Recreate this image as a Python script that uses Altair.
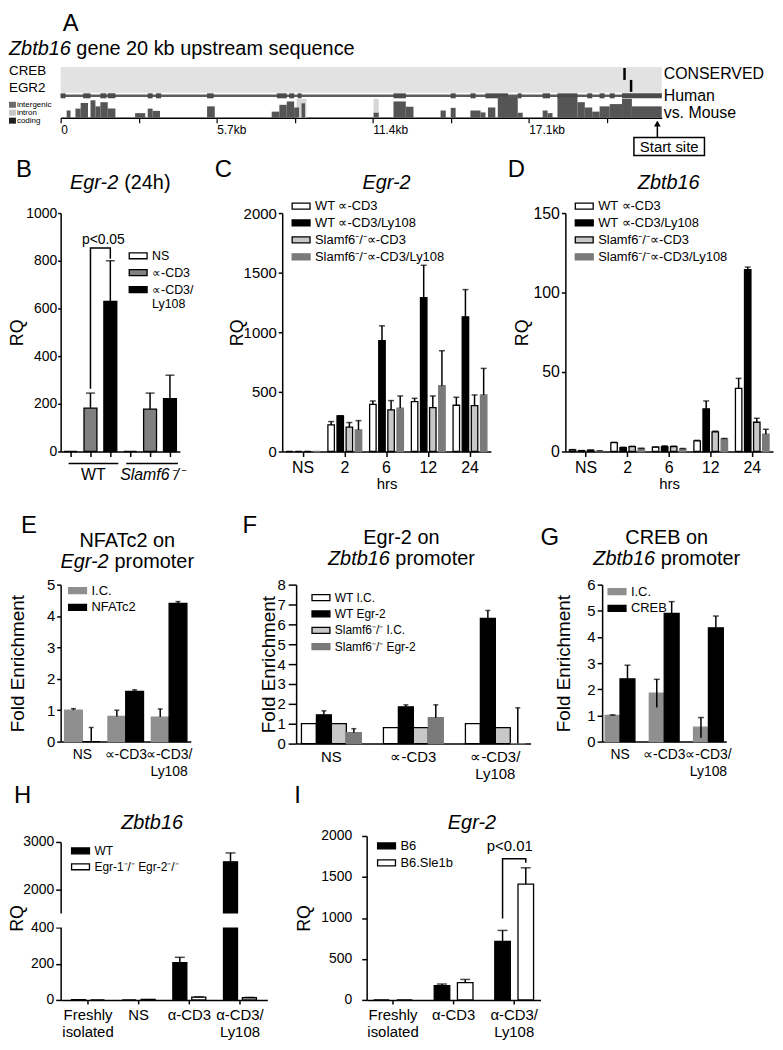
import altair as alt
import pandas as pd

FONT = "Liberation Sans"
AL = "\u221d"                      # alpha as printed in panels B-G
SL = "Slamf6\u207b/\u207b"
KO2 = "Egr-1\u207b/\u207b Egr-2\u207b/\u207b"

# ---------------- Panel A : conservation track ----------------
A_LEN_KB = 21.96
A_TICK_KB = [0, 2.85, 5.7, 8.55, 11.4, 14.25, 17.1, 19.95]
A_LABEL_KB = [0, 5.7, 11.4, 17.1]
A_LABEL_TXT = ["0", "5.7kb", "11.4kb", "17.1kb"]
A_SITE = ["CREB", "EGR2"]
A_SITE_KB = [20.6, 20.84]
A_START_KB = 21.8
A_HUMAN_START = [0.00, 0.82, 1.45, 1.72, 3.18, 3.48, 5.35, 7.90, 8.35, 8.66, 12.16,
                 14.25, 14.97, 15.52, 16.70, 17.61, 18.15, 19.24, 19.69, 20.06, 20.51]
A_HUMAN_END = [0.18, 1.09, 1.67, 2.00, 3.36, 3.67, 5.59, 8.26, 8.53, 8.80, 12.61,
               14.43, 15.16, 16.34, 16.84, 17.88, 18.88, 19.42, 19.87, 20.24, 21.96]
A_PEAK_START = [0.22, 0.54, 0.73, 1.09, 1.27, 1.45, 1.72, 2.72, 3.18, 3.36, 5.35, 7.71,
                7.99, 8.26, 8.53, 8.80, 11.43, 12.16, 12.61, 13.88, 14.25, 14.97, 15.34,
                15.61, 15.97, 16.70, 17.61, 17.79, 18.15, 18.88, 19.15, 19.42, 19.69,
                20.06, 20.51, 20.87]
A_PEAK_END = [0.36, 0.73, 1.00, 1.27, 1.45, 1.72, 2.00, 3.09, 3.36, 3.63, 5.63, 7.99,
              8.26, 8.53, 8.71, 8.93, 11.62, 12.61, 12.89, 14.07, 14.43, 15.34, 15.52,
              15.88, 16.70, 16.88, 17.79, 17.97, 18.88, 19.15, 19.42, 19.69, 20.06,
              20.51, 20.87, 21.96]
A_PEAK_PCT = [69, 74, 89, 96, 80, 91, 74, 62, 74, 68, 80, 66, 84, 93, 77, 88, 63, 93, 79,
              69, 76, 69, 64, 77, 106, 63, 69, 62, 104, 91, 77, 66, 80, 86, 100, 80]
A_INTRON_START = [8.62, 11.43]
A_INTRON_END = [8.98, 11.62]
A_KEY = ["intergenic", "intron", "coding"]
A_KEY_COL = ["#6a6a6a", "#c8c8c8", "#1e1e1e"]

# ---------------- Panel B ----------------
B_GENO = ["WT", "Slamf6"]
B_TREAT = ["NS", AL + "-CD3", AL + "-CD3/Ly108"]
B_WT = [0, 182, 630]
B_WT_ERR = [0, 245, 800]
B_KO = [0, 178, 222]
B_KO_ERR = [0, 245, 320]
B_BRACKET = [263, 853, 853, 808]

# ---------------- Panel C / D ----------------
HRS = ["NS", "2", "6", "12", "24"]
CD_SER = ["WT " + AL + "-CD3", "WT " + AL + "-CD3/Ly108", SL + AL + "-CD3", SL + AL + "-CD3/Ly108"]
C_WT_CD3 = [0, 223, 396, 418, 388]
C_WT_CD3_ERR = [0, 251, 424, 446, 455]
C_WT_LY = [0, 298, 929, 1291, 1130]
C_WT_LY_ERR = [0, 300, 1054, 1562, 1358]
C_KO_CD3 = [0, 204, 349, 368, 385]
C_KO_CD3_ERR = [0, 243, 427, 466, 474]
C_KO_LY = [0, 181, 363, 552, 474]
C_KO_LY_ERR = [0, 259, 466, 845, 697]

D_WT_CD3 = [1.0, 5.6, 2.7, 6.7, 39.7]
D_WT_CD3_ERR = [1.2, 5.8, 2.9, 7.0, 46.0]
D_WT_LY = [0.5, 2.5, 3.1, 26.8, 114.4]
D_WT_LY_ERR = [0.6, 2.7, 3.6, 31.8, 116.0]
D_KO_CD3 = [0.8, 3.1, 3.1, 12.3, 18.4]
D_KO_CD3_ERR = [0.9, 3.3, 3.4, 12.8, 20.9]
D_KO_LY = [0.3, 1.9, 1.7, 7.9, 10.9]
D_KO_LY_ERR = [0.4, 2.0, 1.9, 8.2, 14.0]

# ---------------- Panels E / F / G ----------------
CHIP_GROUPS = ["NS", AL + "-CD3", AL + "-CD3/Ly108"]
E_SER = ["I.C.", "NFATc2"]
E_IC = [1.0, 0.8, 0.78]
E_IC_ERR = [1.05, 1.0, 1.04]
E_NF = [0.0, 1.6, 4.4]
E_NF_ERR = [0.45, 1.65, 4.46]

F_SER = ["WT I.C.", "WT Egr-2", SL + " I.C.", SL + " Egr-2"]
F_WT_IC = [1.0, 0.8, 1.0]
F_WT_EGR = [1.45, 1.85, 6.3]
F_WT_EGR_ERR = [1.65, 1.95, 6.7]
F_KO_IC = [1.0, 0.8, 0.8]
F_KO_EGR = [0.55, 1.3, 0.0]
F_KO_EGR_ERR = [0.75, 1.95, 1.8]

G_SER = ["I.C.", "CREB"]
G_IC = [1.0, 1.85, 0.55]
G_IC_LO = [0.98, 1.3, 0.15]
G_IC_HI = [1.02, 2.38, 0.92]
G_CREB = [2.4, 4.9, 4.35]
G_CREB_HI = [2.92, 5.35, 4.8]

# ---------------- Panels H / I ----------------
H_CATS = ["Freshly isolated", "NS", "\u03b1-CD3", "\u03b1-CD3/Ly108"]
H_SER = ["WT", KO2]
H_WT = [2, 0, 205, 2583]
H_WT_ERR = [2, 0, 235, 2770]
H_KO = [0, 3, 15, 12]
H_KO_ERR = [0, 3, 17, 14]
H_BREAK = [400, 1500]

I_CATS = ["Freshly isolated", "\u03b1-CD3", "\u03b1-CD3/Ly108"]
I_SER = ["B6", "B6.Sle1b"]
I_B6 = [0, 173, 715]
I_B6_ERR = [0, 194, 848]
I_SLE = [0, 210, 1414]
I_SLE_ERR = [0, 250, 1612]
I_BRACKET = [994, 1721, 1721, 1673]

# ---------------- helpers ----------------
_up = "ABCDEFGHIJKLMNOPQRSTUVWXYZ"
_upw = [.667, .667, .722, .722, .667, .611, .778, .722, .278, .5, .667, .556, .833, .722,
        .778, .667, .778, .722, .667, .611, .722, .667, .944, .667, .667, .611]
_lo = "abcdefghijklmnopqrstuvwxyz"
_low = [.556, .556, .5, .556, .556, .278, .556, .556, .222, .222, .5, .222, .833, .556,
        .556, .556, .556, .333, .5, .278, .556, .5, .722, .5, .5, .5]
AW = dict(zip(_up, _upw))
AW.update(dict(zip(_lo, _low)))
AW.update({" ": .278, "(": .333, ")": .333, "-": .333, ".": .278, "/": .278, "<": .584})
AW.update({d: .556 for d in "0123456789"})


def tw(s, size):
    return sum(AW.get(c, 0.6) for c in s) * size


ONE = alt.Data(values=[{"k": 1}])


def txt(s, x, y, size=16, align="left", baseline="alphabetic", italic=False):
    return alt.Chart(ONE).mark_text(
        text=s, fontSize=size, align=align, baseline=baseline, font=FONT, color="black",
        fontStyle="italic" if italic else "normal").encode(x=alt.value(x), y=alt.value(y))


def mixed(parts, x, y, size, center=True):
    ws = [tw(t, size) for t, _ in parts]
    cur = x - sum(ws) / 2 if center else x
    out = []
    for (t, it), w in zip(parts, ws):
        lead = len(t) - len(t.lstrip(" "))
        out.append(txt(t.strip(), cur + lead * 0.278 * size, y, size, italic=it))
        cur += w
    return out


def box(left, top, right, bottom):
    # invisible frame that fixes the panel's extent in the concat layout
    return alt.Chart(ONE).mark_rect(opacity=0).encode(
        x=alt.value(-left), x2=alt.value(right), y=alt.value(-top), y2=alt.value(bottom))


RECT = "M-1,-0.333H1V0.333H-1Z"


def leg(x, y, size=13, rowpad=3, expr=None):
    kw = dict(orient="none", legendX=x, legendY=y, title=None, symbolType=RECT,
              symbolSize=324, symbolStrokeWidth=1.3, labelFontSize=size, labelFont=FONT,
              rowPadding=rowpad, labelOffset=4, padding=0, labelLimit=400, labelColor="black")
    if expr:
        kw["labelExpr"] = expr
    return alt.Legend(**kw)


def yaxis(values, title, size, tick, pad, tx, h, tsize=18, expr=None, ticksz=None, fmt="d"):
    kw = dict(values=values, title=title, labelFontSize=size, tickSize=tick, labelPadding=pad,
              titleX=tx, titleY=h / 2, titleFontSize=tsize, titleFontWeight="normal",
              titleAngle=270, titleBaseline="bottom", titleAlign="center", grid=False,
              domainWidth=1.5, tickWidth=1.5, labelFont=FONT, titleFont=FONT,
              domainColor="black", tickColor="black", labelColor="black", titleColor="black",
              labelFlush=False, labelOverlap=False)
    if fmt:
        kw["format"] = fmt
    if expr:
        kw["labelExpr"] = expr
    if ticksz is not None:
        kw["tickSize"] = ticksz
    return alt.Axis(**kw)


SPLIT = "split(replace(datum.label, '/', '/ '), ' ')"


def xaxis(size=15, tick=0, pad=4, expr=None, title=None, labels=True, lh=17):
    kw = dict(title=title, labels=labels, labelFontSize=size, labelAngle=0, ticks=tick > 0,
              labelPadding=pad, domainWidth=1.5, tickWidth=1.5, grid=False, labelFont=FONT,
              labelColor="black", domainColor="black", tickColor="black", labelLineHeight=lh,
              labelFlush=False, labelOverlap=False)
    if tick > 0:
        kw["tickSize"] = tick
    if expr:
        kw["labelExpr"] = expr
    if title:
        kw.update(titleFontSize=15, titleFontWeight="normal", titlePadding=1, titleFont=FONT,
                  titleColor="black")
    return alt.Axis(**kw)


def table(cats, rows):
    recs = []
    for s, m, lo, hi in rows:
        for c, a, b, d in zip(cats, m, lo, hi):
            recs.append({"cat": c, "series": s, "value": a, "lo": b, "hi": d})
    return pd.DataFrame(recs)


def grouped(df, cats, series, fills, strokes, xpad, opad, ysc, yax, xax, legend, cap):
    X = alt.X("cat:N", scale=alt.Scale(domain=cats, paddingInner=xpad[0], paddingOuter=xpad[1]),
              axis=xax, sort=cats)
    XO = alt.XOffset("series:N", scale=alt.Scale(domain=series, paddingInner=opad, paddingOuter=0),
                     sort=series)
    layers = [alt.Chart(df).mark_bar(strokeWidth=1.3).encode(
        x=X, xOffset=XO, y=alt.Y("value:Q", scale=ysc, axis=yax),
        fill=alt.Fill("series:N", scale=alt.Scale(domain=series, range=fills), legend=legend),
        stroke=alt.Stroke("series:N", scale=alt.Scale(domain=series, range=strokes), legend=legend))]
    e = df[df["hi"] > df["lo"]]
    layers.append(alt.Chart(e).mark_rule(color="black", strokeWidth=1.5).encode(
        x=X, xOffset=XO, y=alt.Y("lo:Q", scale=ysc, axis=yax), y2="hi:Q"))
    layers.append(alt.Chart(e).mark_tick(color="black", thickness=1.5, size=cap).encode(
        x=X, xOffset=XO, y=alt.Y("hi:Q", scale=ysc, axis=yax)))
    return X, XO, layers


# ======================= Panel A =======================
A_W, A_H, A_TRACK_H = 605, 51, 19
A_BAND_H = 26
xsA = alt.Scale(domain=[0, A_LEN_KB], nice=False, zero=False)
ysA = alt.Scale(domain=[50, 50 + 50 * A_H / A_TRACK_H], nice=False, zero=False)
le = "''"
for kb, t in reversed(list(zip(A_LABEL_KB, A_LABEL_TXT))):
    le = "abs(datum.value - %s) < 0.01 ? '%s' : (%s)" % (kb, t, le)
axA = alt.Axis(values=A_TICK_KB, labelExpr=le, labelAlign="left", labelFontSize=12, tickSize=5,
               labelPadding=2, title=None, grid=False, domainWidth=1.5, tickWidth=1.2,
               labelFlush=False, labelOverlap=False, domainColor="black", tickColor="black",
               labelColor="black", labelFont=FONT)


def XA(f):
    return alt.X(f + ":Q", scale=xsA, axis=axA)


TRACK_TOP = A_H - A_TRACK_H
dfSite = pd.DataFrame({"site": A_SITE, "kb": A_SITE_KB})
key_layers = []
for i, (k, c) in enumerate(zip(A_KEY, A_KEY_COL)):
    ry = TRACK_TOP + 6 + 8 * i
    key_layers.append(alt.Chart(ONE).mark_rect(color=c).encode(
        x=alt.value(-52), x2=alt.value(-45), y=alt.value(ry - 3), y2=alt.value(ry + 3)))
    key_layers.append(txt(k, -44, ry, 8, baseline="middle"))

panelA = alt.layer(
    box(52, 56, 717, 91),
    alt.Chart(pd.DataFrame({"s": [0.0], "e": [A_LEN_KB]})).mark_rect(color="#e2e2e2").encode(
        x=XA("s"), x2="e:Q", y=alt.value(0), y2=alt.value(A_BAND_H)),
    alt.Chart(dfSite[dfSite.site == "CREB"]).mark_rule(color="black", strokeWidth=2.5).encode(
        x=XA("kb"), y=alt.value(1), y2=alt.value(13)),
    alt.Chart(dfSite[dfSite.site == "EGR2"]).mark_rule(color="black", strokeWidth=2.5).encode(
        x=XA("kb"), y=alt.value(13), y2=alt.value(25)),
    alt.Chart(pd.DataFrame({"s": [0.0], "e": [A_LEN_KB]})).mark_rule(color="#5c5c5c", strokeWidth=2.5).encode(
        x=XA("s"), x2="e:Q", y=alt.value(A_BAND_H + 3)),
    alt.Chart(pd.DataFrame({"s": A_HUMAN_START, "e": A_HUMAN_END})).mark_rect(color="#4a4a4a").encode(
        x=XA("s"), x2="e:Q", y=alt.value(A_BAND_H + 0.5), y2=alt.value(A_BAND_H + 5.5)),
    alt.Chart(pd.DataFrame({"s": A_INTRON_START, "e": A_INTRON_END})).mark_rect(color="#d6d6d6").encode(
        x=XA("s"), x2="e:Q", y=alt.value(TRACK_TOP), y2=alt.value(A_H)),
    alt.Chart(pd.DataFrame({"s": A_PEAK_START, "e": A_PEAK_END, "pct": A_PEAK_PCT})).mark_rect(
        color="#555555").encode(
        x=XA("s"), x2="e:Q", y=alt.Y("pct:Q", scale=ysA, axis=None), y2=alt.Y2Datum(50)),
    alt.Chart(pd.DataFrame({"kb": [A_START_KB]})).mark_rule(color="black", strokeWidth=1.5).encode(
        x=XA("kb"), y=alt.value(A_H + 4), y2=alt.value(71)),
    alt.Chart(pd.DataFrame({"kb": [A_START_KB]})).mark_point(
        shape="triangle-up", filled=True, size=45, color="black", opacity=1).encode(
        x=XA("kb"), y=alt.value(A_H + 6)),
    alt.Chart(ONE).mark_rect(fill="white", stroke="black", strokeWidth=1.5).encode(
        x=alt.value(577), x2=alt.value(648), y=alt.value(71), y2=alt.value(89)),
    txt("Start site", 612.5, 80.5, 15, align="center", baseline="middle"),
    *key_layers,
    txt("A", 2, -36, 24),
    *mixed([("Zbtb16", True), (" gene 20 kb upstream sequence", False)], -52, -12, 20, center=False),
    txt("CREB", -52, 4, 13.5, baseline="middle"),
    txt("EGR2", -52, 21, 13.5, baseline="middle"),
    txt("CONSERVED", 607, 7, 16, baseline="middle"),
    txt("Human", 607, A_BAND_H + 3, 16, baseline="middle"),
    txt("vs. Mouse", 607, A_H - 5, 16, baseline="middle"),
).properties(width=A_W, height=A_H)

# ======================= Panel B =======================
B_SLOTS = [g + "|" + t for g in B_GENO for t in B_TREAT]
recs = []
for g, m, e in [("WT", B_WT, B_WT_ERR), ("Slamf6", B_KO, B_KO_ERR)]:
    for t, a, b in zip(B_TREAT, m, e):
        recs.append({"slot": g + "|" + t, "series": t, "value": a, "lo": a, "hi": b})
dfB = pd.DataFrame(recs)
XB = alt.X("slot:N", scale=alt.Scale(domain=B_SLOTS, paddingInner=0.35, paddingOuter=0.175),
           axis=xaxis(labels=False, tick=5), sort=B_SLOTS)
ysB = alt.Scale(domain=[0, 1000], nice=False)
yaxB = yaxis([0, 200, 400, 600, 800, 1000], "RQ", 14, 3, 1, -34, 240)
legB = leg(68, 33, 12.5, -2.5, expr=SPLIT)
eB = dfB[dfB["hi"] > dfB["lo"]]
dfBr = pd.DataFrame({"slot": [B_SLOTS[1], B_SLOTS[1], B_SLOTS[2], B_SLOTS[2]],
                     "y": B_BRACKET, "o": [0, 1, 2, 3]})
panelB = alt.layer(
    alt.Chart(dfB).mark_bar(strokeWidth=1.3).encode(
        x=XB, y=alt.Y("value:Q", scale=ysB, axis=yaxB),
        fill=alt.Fill("series:N", scale=alt.Scale(domain=B_TREAT, range=["white", "#808080", "black"]), legend=legB),
        stroke=alt.Stroke("series:N", scale=alt.Scale(domain=B_TREAT, range=["black", "black", "black"]), legend=legB)),
    alt.Chart(eB).mark_rule(color="black", strokeWidth=1.5).encode(
        x=XB, y=alt.Y("lo:Q", scale=ysB, axis=yaxB), y2="hi:Q"),
    alt.Chart(eB).mark_tick(color="black", thickness=1.5, size=9).encode(
        x=XB, y=alt.Y("hi:Q", scale=ysB, axis=yaxB)),
    alt.Chart(dfBr).mark_line(color="black", strokeWidth=1.5).encode(
        x=XB, y=alt.Y("y:Q", scale=ysB, axis=yaxB), order="o:Q"),
    alt.Chart(ONE).mark_rule(color="black", strokeWidth=1.5).encode(
        x=alt.value(8), x2=alt.value(58), y=alt.value(252)),
    alt.Chart(ONE).mark_rule(color="black", strokeWidth=1.5).encode(
        x=alt.value(66), x2=alt.value(118), y=alt.value(252)),
    txt("WT", 33, 269, 16, align="center"),
    txt(SL, 92, 269, 16, align="center", italic=True),
    txt("p<0.05", 43, 31, 14, align="center"),
    txt("B", -45, -36, 24),
    *mixed([("Egr-2", True), (" (24h)", False)], 60, -24, 20),
    box(52, 56, 150, 292),
).properties(width=120, height=240)

# ======================= Panel C =======================
CD_FILL = ["white", "black", "#c8c8c8", "#7a7a7a"]
CD_STROKE = ["black", "black", "black", "#7a7a7a"]
dfC = table(HRS, [(CD_SER[0], C_WT_CD3, C_WT_CD3, C_WT_CD3_ERR),
                  (CD_SER[1], C_WT_LY, C_WT_LY, C_WT_LY_ERR),
                  (CD_SER[2], C_KO_CD3, C_KO_CD3, C_KO_CD3_ERR),
                  (CD_SER[3], C_KO_LY, C_KO_LY, C_KO_LY_ERR)])
_, _, LC = grouped(dfC, HRS, CD_SER, CD_FILL, CD_STROKE, (0.19, 0.095), 0.29,
                   alt.Scale(domain=[0, 2000], nice=False),
                   yaxis([0, 500, 1000, 1500, 2000], "RQ", 15, 4, 2, -36, 240),
                   xaxis(size=16, tick=5, pad=3, title="hrs"), leg(9, -17, 13, -1), 6)
panelC = alt.layer(*LC, txt("C", -68, -36, 24),
                   txt("Egr-2", 105, -24, 20, align="center", italic=True),
                   box(73, 56, 217, 292)
                   ).properties(width=210, height=240)

# ======================= Panel D =======================
dfD = table(HRS, [(CD_SER[0], D_WT_CD3, D_WT_CD3, D_WT_CD3_ERR),
                  (CD_SER[1], D_WT_LY, D_WT_LY, D_WT_LY_ERR),
                  (CD_SER[2], D_KO_CD3, D_KO_CD3, D_KO_CD3_ERR),
                  (CD_SER[3], D_KO_LY, D_KO_LY, D_KO_LY_ERR)])
_, _, LD = grouped(dfD, HRS, CD_SER, CD_FILL, CD_STROKE, (0.19, 0.095), 0.29,
                   alt.Scale(domain=[0, 150], nice=False),
                   yaxis([0, 50, 100, 150], "RQ", 16, 4, 2, -34, 240),
                   xaxis(size=16, tick=5, pad=3, title="hrs"), leg(9, -17, 13, -1), 6)
panelD = alt.layer(*LD, txt("D", -58, -36, 24),
                   txt("Zbtb16", 104, -24, 20, align="center", italic=True),
                   box(68, 56, 209, 292)
                   ).properties(width=209, height=240)

# ======================= Panel E =======================
dfE = table(CHIP_GROUPS, [(E_SER[0], E_IC, E_IC, E_IC_ERR), (E_SER[1], E_NF, E_NF, E_NF_ERR)])
E_TICKS = [i * 0.5 for i in range(11)]
_, _, LE = grouped(dfE, CHIP_GROUPS, E_SER, ["#8f8f8f", "black"], ["#8f8f8f", "black"],
                   (0.18, 0.09), 0.0, alt.Scale(domain=[0, 5], nice=False),
                   yaxis(E_TICKS, "Fold Enrichment", 15, 4, 2, -33, 158, tsize=19,
                         expr="datum.value % 1 ? '' : datum.label",
                         ticksz={"condition": {"test": "datum.value % 1 != 0", "value": 2.5}, "value": 4}),
                   xaxis(size=14, pad=6, expr=SPLIT), leg(7, -4, 13, 0), 5)
panelE = alt.layer(*LE, txt("E", -40, -52, 24),
                   txt("NFATc2 on", 67, -38, 20, align="center"),
                   *mixed([("Egr-2", True), (" promoter", False)], 67, -17, 20),
                   box(52, 82, 180, 199)
                   ).properties(width=131, height=158)

# ======================= Panel F =======================
dfF = table(CHIP_GROUPS, [(F_SER[0], F_WT_IC, F_WT_IC, F_WT_IC),
                          (F_SER[1], F_WT_EGR, F_WT_EGR, F_WT_EGR_ERR),
                          (F_SER[2], F_KO_IC, F_KO_IC, F_KO_IC),
                          (F_SER[3], F_KO_EGR, F_KO_EGR, F_KO_EGR_ERR)])
_, _, LF = grouped(dfF, CHIP_GROUPS, F_SER, CD_FILL, CD_STROKE, (0.27, 0.065), 0.0,
                   alt.Scale(domain=[0, 8], nice=False),
                   yaxis(list(range(9)), "Fold Enrichment", 15, 8, 3, -18, 160, tsize=19),
                   xaxis(size=15, pad=6, expr=SPLIT), leg(15, 3, 12, 0.5), 5)
panelF = alt.layer(*LF, txt("F", -54, -52, 24),
                   txt("Egr-2 on", 106, -41, 20, align="center"),
                   *mixed([("Zbtb16", True), (" promoter", False)], 106, -20, 20),
                   box(57, 82, 238, 199)
                   ).properties(width=236, height=160)

# ======================= Panel G =======================
dfG = table(CHIP_GROUPS, [(G_SER[0], G_IC, G_IC_LO, G_IC_HI), (G_SER[1], G_CREB, G_CREB, G_CREB_HI)])
_, _, LG = grouped(dfG, CHIP_GROUPS, G_SER, ["#8f8f8f", "black"], ["#8f8f8f", "black"],
                   (0.326, 0.068), 0.0, alt.Scale(domain=[0, 6], nice=False),
                   yaxis(list(range(7)), "Fold Enrichment", 15, 5, 2, -29, 158, tsize=19),
                   xaxis(size=14, pad=6, expr=SPLIT), leg(5, -3, 13, -1), 6)
panelG = alt.layer(*LG, txt("G", -62, -40, 24),
                   txt("CREB on", 65, -41, 20, align="center"),
                   *mixed([("Zbtb16", True), (" promoter", False)], 65, -20, 20),
                   box(70, 82, 172, 199)
                   ).properties(width=125, height=158)

# ======================= Panel H =======================
dfH = table(H_CATS, [(H_SER[0], H_WT, H_WT, H_WT_ERR), (H_SER[1], H_KO, H_KO, H_KO_ERR)])
ysH = alt.Scale(domain=[0, H_BREAK[0], H_BREAK[1], 3000], range=[165, 92, 78, 6], nice=False, zero=False)
yaxH = yaxis([0, 200, 400, 2000, 3000], "RQ", 14, 5, 2, -34, 165)
_, _, LH = grouped(dfH, H_CATS, H_SER, ["black", "white"], ["black", "black"],
                   (0.35, 0.215), 0.26, ysH, yaxH,
                   xaxis(size=15, tick=4, pad=4, expr=SPLIT, lh=17), leg(10, 5, 12, -5), 10)
gapH = alt.Chart(pd.DataFrame({"lo": [H_BREAK[0]], "hi": [H_BREAK[1]]})).mark_rect(color="white").encode(
    y=alt.Y("lo:Q", scale=ysH, axis=yaxH), y2="hi:Q", x=alt.value(-6), x2=alt.value(208))
panelH = alt.layer(*LH, gapH, txt("H", -47, -33, 24),
                   txt("Zbtb16", 92, -7, 20, align="center", italic=True),
                   box(52, 54, 230, 208)
                   ).properties(width=208, height=165)

# ======================= Panel I =======================
dfI = table(I_CATS, [(I_SER[0], I_B6, I_B6, I_B6_ERR), (I_SER[1], I_SLE, I_SLE, I_SLE_ERR)])
ysI = alt.Scale(domain=[0, 2000], nice=False)
yaxI = yaxis([0, 500, 1000, 1500, 2000], "RQ", 14, 5, 10, -54, 165)
XI, XOI, LI = grouped(dfI, I_CATS, I_SER, ["black", "white"], ["black", "black"],
                      (0.36, 0.115), 0.33, ysI, yaxI,
                      xaxis(size=15, tick=4, pad=4, expr=SPLIT, lh=17), leg(10, 0, 13, -1), 10)
dfIb = pd.DataFrame({"cat": [I_CATS[2]] * 4, "series": [I_SER[0], I_SER[0], I_SER[1], I_SER[1]],
                     "y": I_BRACKET, "o": [0, 1, 2, 3]})
brI = alt.Chart(dfIb).mark_line(color="black", strokeWidth=1.5).encode(
    x=XI, xOffset=XOI, y=alt.Y("y:Q", scale=ysI, axis=yaxI), order="o:Q")
panelI = alt.layer(*LI, brI, txt("I", -73, -33, 24),
                   txt("Egr-2", 106, -7, 20, align="center", italic=True),
                   txt("p<0.01", 144, 15, 15, align="center"),
                   box(78, 54, 409, 208)
                   ).properties(width=175, height=165)


# ======================= layout =======================
def R(c):
    return (c.resolve_scale(x="independent", y="independent", xOffset="independent",
                            fill="independent", stroke="independent")
             .resolve_axis(x="independent", y="independent")
             .resolve_legend(fill="independent", stroke="independent"))


row1 = R(alt.hconcat(panelB, panelC, panelD, spacing=0))
row2 = R(alt.hconcat(panelE, panelF, panelG, spacing=0))
row3 = R(alt.hconcat(panelH, panelI, spacing=0))
top = R(alt.vconcat(panelA, row1, row2, row3, spacing=0))

chart = (top.properties(padding={"left": 0, "top": 0, "right": 2, "bottom": 2})
         .configure(font=FONT)
         .configure_view(stroke=None)
         .configure_axis(grid=False, labelFont=FONT, titleFont=FONT)
         .configure_legend(labelFont=FONT)
         .configure_text(font=FONT))

chart.save("out.html", embed_options={"renderer": "svg", "actions": False})
